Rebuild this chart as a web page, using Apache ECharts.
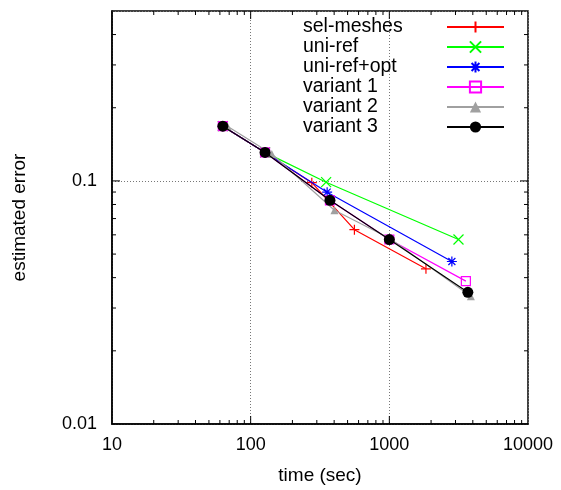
<!DOCTYPE html>
<html>
<head>
<meta charset="utf-8">
<script src="https://cdn.jsdelivr.net/npm/echarts@6/dist/echarts.min.js"></script>
<style>
html,body{margin:0;padding:0;background:#fff;}
#chart{width:561px;height:490px;}
</style>
</head>
<body>
<div id="chart"></div>
<script>
// ---- data ----
const seriesNames = ['sel-meshes', 'uni-ref', 'uni-ref+opt', 'variant 1', 'variant 2', 'variant 3'];
const selMeshes = [[63, 0.168], [127, 0.131], [276, 0.0983], [560, 0.063], [1837, 0.0435]];
const uniRef = [[63, 0.168], [127, 0.131], [350, 0.0988], [3153, 0.0574]];
const uniRefOpt = [[63, 0.168], [127, 0.131], [356, 0.0899], [2825, 0.0466]];
const variant1 = [[63, 0.168], [127, 0.131], [373, 0.0832], [1000, 0.0574], [3564, 0.0387]];
const variant2 = [[68, 0.168], [142, 0.129], [402, 0.0757], [1010, 0.058], [3871, 0.0335]];
const variant3 = [[63, 0.168], [127, 0.131], [373, 0.0832], [1000, 0.0574], [3683, 0.0348]];
const xTickLabels = ['10', '100', '1000', '10000'];
const yTickLabels = ['0.01', '0.1'];
const xMinorTicks = [20, 30, 40, 50, 60, 70, 80, 90, 200, 300, 400, 500, 600, 700, 800, 900, 2000, 3000, 4000, 5000, 6000, 7000, 8000, 9000];
const xMajorTicks = [100, 1000];
const yMinorTicks = [0.02, 0.03, 0.04, 0.05, 0.06, 0.07, 0.08, 0.09, 0.2, 0.3, 0.4];
const yMajorTicks = [0.1];
const X_MIN = 10, X_MAX = 10000, Y_MIN = 0.01, Y_MAX = 0.5;

const FONT = "'Liberation Sans', Arial, sans-serif";
const colors = ['#ff0000', '#00ff00', '#0000ff', '#ff00ff', '#a0a0a0', '#000000'];
const symbols = [
  'path://M5,0L5,10M0,5L10,5',
  'path://M0,0L10,10M10,0L0,10',
  'path://M5,0L5,10M0,5L10,5M1.5,1.5L8.5,8.5M8.5,1.5L1.5,8.5',
  'rect', 'triangle', 'circle'
];
const symbolSizes = [10, 10, 10, 9, 8, 11];
const datasets = [selMeshes, uniRef, uniRefOpt, variant1, variant2, variant3];

function findLabel(v, labels) {
  const lv = Math.log10(v);
  if (Math.abs(lv - Math.round(lv)) > 1e-6) return '';
  for (const l of labels) {
    if (Math.abs(Math.log10(parseFloat(l)) - lv) < 1e-6) return l;
  }
  return '';
}

const lineSeries = seriesNames.map((name, i) => {
  const c = colors[i];
  const stroked = i <= 3;
  return {
    name: name,
    type: 'line',
    data: datasets[i],
    symbol: symbols[i],
    symbolSize: symbolSizes[i],
    showSymbol: true,
    lineStyle: { color: c, width: 1.2 },
    itemStyle: stroked
      ? { color: i === 3 ? 'rgba(255,255,255,0)' : c, borderColor: c, borderWidth: 1.2 }
      : { color: c, borderWidth: 0 },
    z: 3 + i,
    animation: false
  };
});

const tickSeries = {
  type: 'custom',
  silent: true,
  clip: false,
  z: 20,
  data: [[X_MIN, Y_MIN]],
  renderItem: function (params, api) {
    const bl = api.coord([X_MIN, Y_MIN]);
    const tr = api.coord([X_MAX, Y_MAX]);
    const children = [];
    const style = { stroke: '#000', lineWidth: 1 };
    function xt(v, len) {
      const p = api.coord([v, Y_MIN])[0];
      children.push({ type: 'line', shape: { x1: p, y1: bl[1], x2: p, y2: bl[1] - len }, style: style });
      children.push({ type: 'line', shape: { x1: p, y1: tr[1], x2: p, y2: tr[1] + len }, style: style });
    }
    function yt(v, len) {
      const p = api.coord([X_MIN, v])[1];
      children.push({ type: 'line', shape: { x1: bl[0], y1: p, x2: bl[0] + len, y2: p }, style: style });
      children.push({ type: 'line', shape: { x1: tr[0], y1: p, x2: tr[0] - len, y2: p }, style: style });
    }
    xMinorTicks.forEach(v => xt(v, 4));
    xMajorTicks.forEach(v => xt(v, 8));
    yMinorTicks.forEach(v => yt(v, 4));
    yMajorTicks.forEach(v => yt(v, 8));
    return { type: 'group', children: children };
  }
};

const chart = echarts.init(document.getElementById('chart'), null, { renderer: 'canvas' });
chart.setOption({
  animation: false,
  backgroundColor: '#fff',
  textStyle: { fontFamily: FONT },
  grid: {
    left: 112, right: 33, top: 11, bottom: 64,
    show: true, borderColor: '#000', borderWidth: 1.5, backgroundColor: 'transparent',
    containLabel: false
  },
  legend: {
    data: seriesNames,
    orient: 'vertical',
    left: 303,
    top: 17,
    align: 'right',
    padding: 0,
    itemGap: 0,
    itemWidth: 57,
    itemHeight: 14,
    selectedMode: false,
    formatter: function (n) { return '{a|' + n + '}'; },
    textStyle: {
      fontFamily: FONT,
      fontSize: 19.5,
      color: '#000',
      rich: {
        a: { width: 139, height: 20, lineHeight: 20, align: 'left', fontSize: 19.5, fontFamily: FONT, color: '#000' }
      }
    }
  },
  xAxis: {
    type: 'log',
    logBase: 10,
    min: X_MIN,
    max: X_MAX,
    name: 'time (sec)',
    nameLocation: 'middle',
    nameGap: 42,
    nameTextStyle: { fontSize: 19, color: '#000', fontFamily: FONT },
    axisLine: { show: true, lineStyle: { color: '#000', width: 1.5 } },
    axisTick: { show: false },
    axisLabel: {
      margin: 12, fontSize: 18, color: '#000', fontFamily: FONT,
      formatter: v => findLabel(v, xTickLabels)
    },
    splitLine: { show: true, lineStyle: { color: '#777', width: 1, type: [1, 2] } },
    minorTick: { show: false }
  },
  yAxis: {
    type: 'log',
    logBase: 10,
    min: Y_MIN,
    max: Y_MAX,
    name: 'estimated error',
    nameLocation: 'middle',
    nameGap: 83,
    nameTextStyle: { fontSize: 19, color: '#000', fontFamily: FONT },
    axisLine: { show: true, lineStyle: { color: '#000', width: 1.5 } },
    axisTick: { show: false },
    axisLabel: {
      margin: 15, fontSize: 18, color: '#000', fontFamily: FONT,
      formatter: v => findLabel(v, yTickLabels)
    },
    splitLine: { show: true, lineStyle: { color: '#777', width: 1, type: [1, 2] } }
  },
  series: lineSeries.concat([tickSeries])
});
</script>
</body>
</html>
